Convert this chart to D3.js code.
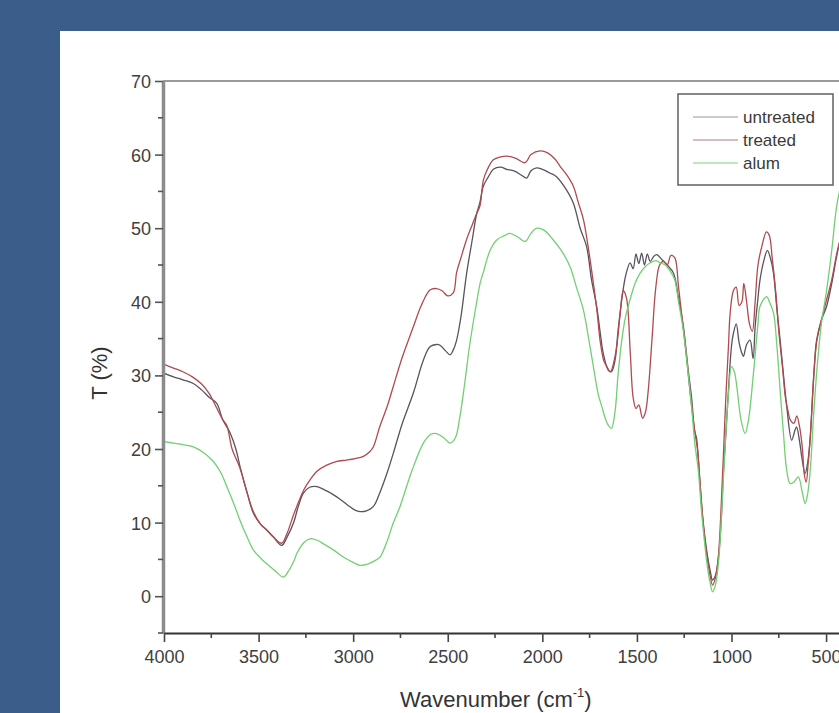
<!DOCTYPE html>
<html>
<head>
<meta charset="utf-8">
<script src="https://cdn.jsdelivr.net/npm/d3@7/dist/d3.min.js"></script>
<style>
  html, body { margin: 0; padding: 0; background: #3a5e89; }
  svg { display: block; }
  text { font-family: "Liberation Sans", Arial, sans-serif; }
</style>
</head>
<body>
<svg id="chart" width="839" height="713"></svg>
<script>
// FTIR transmittance spectra (T %, vs wavenumber in cm^-1)
const untreatedWn = [4000,3950,3900,3845,3800,3760,3721,3690,3651,3620,3598,3560,3528,3490,3457,3420,3378,3350,3316,3290,3263,3230,3193,3140,3087,3030,2990,2964,2930,2893,2860,2820,2788,2740,2682,2630,2594,2560,2541,2510,2488,2470,2453,2430,2400,2370,2347,2330,2312,2285,2259,2220,2188,2150,2110,2083,2060,2030,2000,1960,1925,1880,1836,1800,1766,1740,1713,1695,1678,1651,1635,1616,1600,1580,1560,1536,1520,1505,1490,1475,1460,1445,1430,1410,1395,1370,1340,1307,1280,1254,1230,1210,1195,1185,1175,1160,1149,1130,1113,1100,1085,1069,1055,1043,1030,1016,1000,990,975,960,945,937,920,902,886,875,862,849,830,810,795,778,760,743,725,708,682,665,656,640,629,611,598,585,565,550,525,497,470,444,420];
const untreatedT = [30.3,29.8,29.4,28.9,28.0,27.0,26.2,24.0,22.2,20.0,17.6,14.0,11.3,9.8,9.0,8.0,6.9,8.0,9.9,12.2,14.0,14.8,14.9,14.3,13.5,12.4,11.7,11.5,11.6,12.2,14.0,16.8,19.4,23.5,27.6,32.0,33.9,34.2,34.1,33.3,32.8,33.5,34.8,38.0,43.9,48.5,52.0,53.5,55.7,57.0,58.0,58.3,58.0,57.8,57.2,56.8,57.8,58.2,58.0,57.5,57.0,55.5,53.4,50.0,47.5,43.0,39.4,36.0,33.0,30.7,30.5,32.0,36.0,40.3,43.5,45.3,44.5,46.5,45.2,46.6,45.0,46.5,45.5,46.2,46.4,45.8,45.0,43.9,40.5,36.6,31.0,26.7,22.5,21.5,18.5,13.0,9.9,6.0,3.5,2.2,2.8,5.3,10.0,16.7,22.0,28.0,34.0,35.7,37.0,34.5,33.0,32.6,34.2,34.8,32.3,36.6,40.0,43.0,45.5,47.0,46.0,43.9,39.0,34.8,30.0,25.8,21.2,22.5,23.0,21.0,19.0,16.7,18.0,21.2,30.0,34.8,37.5,39.4,42.5,46.2,49.0];

const treatedWn = [4000,3950,3900,3850,3800,3760,3720,3690,3668,3640,3600,3560,3528,3490,3457,3420,3378,3350,3316,3298,3260,3228,3190,3140,3090,3034,2990,2946,2910,2893,2860,2820,2788,2740,2682,2640,2594,2560,2530,2500,2471,2453,2430,2400,2370,2347,2330,2312,2294,2259,2220,2188,2140,2091,2060,2012,1970,1930,1906,1870,1836,1810,1783,1755,1730,1710,1695,1675,1659,1640,1625,1607,1590,1572,1555,1535,1520,1505,1490,1470,1455,1440,1420,1400,1380,1360,1340,1320,1300,1280,1260,1240,1220,1205,1192,1180,1165,1150,1130,1113,1100,1085,1069,1055,1043,1030,1016,1007,990,975,960,945,935,920,905,890,875,860,840,815,800,785,765,750,730,715,700,690,670,655,640,625,615,605,595,585,565,550,525,500,470,444,420];
const treatedT = [31.5,31.0,30.5,29.8,28.8,27.5,25.5,24.0,23.2,20.0,17.5,14.0,11.5,9.8,9.0,8.0,7.2,8.5,11.0,12.2,14.5,15.8,17.0,17.8,18.3,18.5,18.7,19.0,19.7,20.3,23.0,25.8,28.5,32.5,36.6,39.5,41.6,41.8,41.5,40.8,41.2,44.0,46.0,48.5,50.5,52.0,53.0,56.5,57.8,59.3,59.7,59.8,59.5,58.9,60.0,60.5,60.2,59.3,58.4,57.2,55.7,53.5,51.2,47.0,42.5,38.5,34.8,32.0,31.2,30.5,31.5,33.9,38.0,41.5,40.5,33.0,27.0,25.5,26.0,24.2,25.0,28.0,35.0,42.0,45.0,45.5,45.0,46.3,46.0,42.0,37.5,33.0,28.0,24.5,22.0,20.0,15.0,10.0,5.5,2.8,1.5,2.5,5.5,12.0,19.0,27.0,34.0,38.5,41.5,42.0,39.5,40.0,42.5,40.0,37.0,36.0,40.0,45.0,47.5,49.5,49.0,46.0,41.0,36.0,31.0,27.0,25.0,24.0,23.5,24.5,23.0,20.0,16.5,15.5,18.0,21.0,30.0,34.5,37.5,40.0,43.0,46.5,49.0];

const alumWn = [4000,3950,3900,3845,3790,3739,3700,3668,3630,3598,3560,3528,3490,3457,3410,3369,3340,3310,3298,3260,3228,3190,3150,3105,3050,3000,2964,2920,2880,2858,2820,2790,2752,2690,2629,2590,2559,2520,2488,2460,2435,2410,2382,2350,2329,2312,2276,2241,2200,2171,2130,2091,2060,2030,1990,1942,1900,1854,1820,1783,1755,1730,1705,1686,1665,1651,1635,1616,1600,1580,1560,1536,1510,1483,1455,1430,1400,1378,1350,1320,1300,1280,1254,1230,1210,1195,1185,1175,1160,1149,1130,1113,1100,1085,1069,1055,1043,1030,1016,1000,985,972,950,928,910,884,860,849,814,800,778,760,743,725,708,690,670,647,625,611,600,585,565,550,525,497,470,444,420];
const alumT = [21.0,20.8,20.6,20.3,19.5,18.3,16.8,14.9,12.5,10.3,8.0,6.3,5.2,4.4,3.4,2.6,3.5,5.0,5.8,7.3,7.8,7.6,7.0,6.3,5.3,4.6,4.2,4.4,4.9,5.3,7.5,9.8,12.2,17.0,20.8,22.0,22.1,21.5,20.8,21.5,24.5,29.0,34.5,39.5,42.5,44.0,47.0,48.4,49.0,49.3,48.8,48.2,49.3,50.0,49.7,48.4,47.0,44.8,42.0,38.9,35.0,31.2,27.5,25.8,24.0,23.2,22.8,25.0,30.0,34.8,38.0,40.3,42.5,43.9,44.8,45.3,45.6,45.3,45.0,44.0,43.0,40.0,36.0,30.5,25.5,21.0,19.0,17.0,12.0,9.0,4.5,1.8,0.6,1.5,4.5,10.0,16.0,22.0,27.5,31.2,30.5,28.5,24.0,22.1,24.0,30.3,37.0,39.4,40.7,40.0,38.5,34.0,28.0,22.0,17.1,15.3,15.5,16.2,14.0,12.6,13.5,16.7,25.0,30.3,37.0,41.6,47.0,53.0,56.0];

const seriesNames = ["untreated", "treated", "alum"];
const yMajorTicks = [0, 10, 20, 30, 40, 50, 60, 70];
const yMinorTicks = [-5, 5, 15, 25, 35, 45, 55, 65];
const xMajorTicks = [4000, 3500, 3000, 2500, 2000, 1500, 1000, 500];
const xMinorTicks = [3750, 3250, 2750, 2250, 1750, 1250, 750];

const colors = { untreated: "#5a525e", treated: "#b04a4e", alum: "#72cf72" };
const legendColors = { untreated: "#b8b8b8", treated: "#c9a6a6", alum: "#a6e0a6" };

const svg = d3.select("#chart");
const W = 839, H = 713;

svg.append("rect").attr("width", W).attr("height", H).attr("fill", "#3a5e89");
svg.append("rect").attr("x", 60).attr("y", 31).attr("width", W - 60).attr("height", H - 31).attr("fill", "#ffffff");

const x = d3.scaleLinear().domain([4000, 400]).range([164, 845]);
const y = d3.scaleLinear().domain([-5, 70]).range([633, 81]);

svg.append("defs").append("clipPath").attr("id", "plot-clip")
  .append("rect").attr("x", 164).attr("y", 81).attr("width", 690).attr("height", 552);

// frame top edge
svg.append("line")
  .attr("x1", 163).attr("x2", W).attr("y1", y(70)).attr("y2", y(70))
  .attr("stroke", "#9a9a9a").attr("stroke-width", 2);

// spectra
const line = d3.line().x(d => x(d[0])).y(d => y(d[1])).curve(d3.curveCatmullRom.alpha(0.5));
const series = [
  { name: "untreated", wn: untreatedWn, t: untreatedT },
  { name: "treated", wn: treatedWn, t: treatedT },
  { name: "alum", wn: alumWn, t: alumT }
];
const plot = svg.append("g").attr("clip-path", "url(#plot-clip)");
series.forEach(s => {
  plot.append("path")
    .datum(s.wn.map((w, i) => [w, s.t[i]]))
    .attr("fill", "none")
    .attr("stroke", colors[s.name])
    .attr("stroke-width", 1.3)
    .attr("stroke-linejoin", "round")
    .attr("d", line);
});

// y axis
const yAxis = svg.append("g").attr("transform", "translate(163,0)")
  .call(d3.axisLeft(y).tickValues(yMajorTicks).tickSize(8).tickSizeOuter(0).tickPadding(4).tickFormat(d3.format("d")));
yAxis.select(".domain").attr("stroke", "#8c8c8c").attr("stroke-width", 3.5);
yAxis.selectAll(".tick line").attr("stroke", "#555").attr("stroke-width", 1.6);
yAxis.selectAll(".tick text").attr("fill", "#404040").attr("font-size", 18).attr("dy", "0.36em")
  .style("font-family", "'Liberation Sans', Arial, sans-serif");
svg.append("g").selectAll("line").data(yMinorTicks).join("line")
  .attr("x1", 158).attr("x2", 163).attr("y1", d => y(d)).attr("y2", d => y(d))
  .attr("stroke", "#555").attr("stroke-width", 1.6);

// x axis
const xAxis = svg.append("g").attr("transform", "translate(0,633)")
  .call(d3.axisBottom(x).tickValues(xMajorTicks).tickSize(9).tickSizeOuter(0).tickPadding(8).tickFormat(d3.format("d")));
xAxis.select(".domain").attr("stroke", "#333").attr("stroke-width", 2.2);
xAxis.selectAll(".tick line").attr("stroke", "#444").attr("stroke-width", 1.6);
xAxis.selectAll(".tick text").attr("fill", "#404040").attr("font-size", 18)
  .style("font-family", "'Liberation Sans', Arial, sans-serif");
svg.append("g").selectAll("line").data(xMinorTicks).join("line")
  .attr("x1", d => x(d)).attr("x2", d => x(d)).attr("y1", 633).attr("y2", 638)
  .attr("stroke", "#444").attr("stroke-width", 1.6);

// axis titles
svg.append("text")
  .attr("transform", "translate(107,373) rotate(-90)")
  .attr("text-anchor", "middle").attr("font-size", 22).attr("fill", "#333")
  .text("T (%)");

const xt = svg.append("text")
  .attr("x", 400).attr("y", 707).attr("font-size", 22).attr("fill", "#333");
xt.append("tspan").text("Wavenumber (cm");
xt.append("tspan").attr("font-size", 13).attr("dy", -10).text("-1");
xt.append("tspan").attr("dy", 10).text(")");

// legend
const lg = svg.append("g");
lg.append("rect").attr("x", 678).attr("y", 94).attr("width", 155).attr("height", 91)
  .attr("fill", "#fff").attr("stroke", "#6a6a6a").attr("stroke-width", 1.6);
seriesNames.forEach((n, i) => {
  const ly = 117 + i * 23;
  lg.append("line").attr("x1", 693).attr("x2", 738).attr("y1", ly).attr("y2", ly)
    .attr("stroke", legendColors[n]).attr("stroke-width", 1.4);
  lg.append("text").attr("x", 743).attr("y", ly + 6).attr("font-size", 17).attr("fill", "#3a3a3a")
    .text(n);
});
</script>
</body>
</html>
